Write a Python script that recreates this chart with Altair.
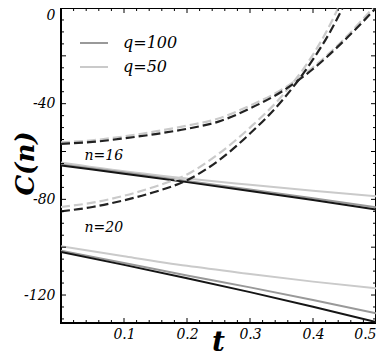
import altair as alt
import pandas as pd

# ---------------- data ----------------
T_SOLID = [0.0, 0.1, 0.2, 0.3, 0.4, 0.5]
n16_black = [-65.8, -69.3, -72.8, -76.5, -80.3, -84.3]
n16_q100 = [-65.4, -68.8, -72.3, -75.9, -79.5, -83.3]
n16_q50 = [-64.6, -68.3, -71.3, -73.9, -76.4, -78.7]
n20_black = [-102.0, -107.4, -113.0, -118.8, -124.9, -131.3]
n20_q100 = [-101.5, -106.6, -111.8, -116.8, -122.1, -127.6]
n20_q50 = [-99.6, -103.8, -107.8, -111.2, -114.4, -117.2]

T_UP = [0.0, 0.05, 0.1, 0.15, 0.2, 0.25, 0.3, 0.35, 0.4, 0.45, 0.5]
up_black = [-56.8, -56.0, -54.5, -52.7, -50.5, -47.5, -42.0, -35.0, -25.5, -13.5, 0.0]
T_UP_L = [0.0, 0.05, 0.1, 0.15, 0.2, 0.25, 0.3, 0.35, 0.4, 0.45, 0.495]
up_light = [-56.2, -55.3, -53.7, -51.6, -49.2, -46.2, -40.8, -34.2, -24.8, -12.8, 0.0]
T_LO = [0.0, 0.05, 0.1, 0.15, 0.2, 0.25, 0.3, 0.35, 0.4, 0.425, 0.447]
lo_black = [-85.0, -83.2, -80.4, -76.8, -72.0, -63.8, -52.5, -39.0, -21.5, -11.0, 0.0]
T_LO_L = [0.0, 0.05, 0.1, 0.15, 0.2, 0.25, 0.3, 0.35, 0.4, 0.42, 0.44]
lo_light = [-83.2, -81.4, -78.5, -74.6, -69.6, -61.0, -50.0, -37.0, -19.5, -10.5, 0.0]

LEGEND_LABELS = ["q=100", "q=50"]
N_LABELS = ["n=16", "n=20"]
N_LABEL_T = [0.068, 0.068]
N_LABEL_C = [-62.0, -92.0]

X_TICK_LABELS = [0.1, 0.2, 0.3, 0.4, 0.5]
Y_TICK_LABELS = [0, -40, -80, -120]
X_MAJOR = [0.1, 0.2, 0.3, 0.4]
X_MINOR = [round(0.02 * i, 2) for i in range(1, 25) if i % 5 != 0]
Y_MAJOR = [-20, -40, -60, -80, -100, -120]
Y_MINOR = [-5 * i for i in range(1, 27) if i % 4 != 0]

# ---------------- styling ----------------
W, H = 315, 315
BLACK = "#151515"
GREY = "#999999"
LIGHT = "#cacaca"
SERIF = "DejaVu Serif"


def frame(ts, cs, name):
    return pd.DataFrame({"t": ts, "C": cs, "curve": name})


solid_light = pd.concat([frame(T_SOLID, n16_q50, "a"), frame(T_SOLID, n20_q50, "b")])
solid_grey = pd.concat([frame(T_SOLID, n16_q100, "a"), frame(T_SOLID, n20_q100, "b")])
solid_black = pd.concat([frame(T_SOLID, n16_black, "a"), frame(T_SOLID, n20_black, "b")])
dash_light = pd.concat([frame(T_UP_L, up_light, "a"), frame(T_LO_L, lo_light, "b")])
dash_black = pd.concat([frame(T_UP, up_black, "a"), frame(T_LO, lo_black, "b")])

xscale = alt.Scale(domain=[0, 0.5], nice=False, zero=False)
yscale = alt.Scale(domain=[-131.7, 0], nice=False, zero=False)

xaxis = alt.Axis(
    values=X_TICK_LABELS, format=".1f", ticks=False, domain=False, grid=False,
    labelFont=SERIF, labelFontStyle="italic", labelFontSize=14, labelColor="black",
    labelPadding=4, labelFlush=True,
    title="t", titleFont=SERIF, titleFontStyle="italic", titleFontWeight="bold",
    titleFontSize=28, titleColor="black", titleX=157, titleY=27,
    titleBaseline="alphabetic", titleAlign="center",
)
yaxis = alt.Axis(
    values=Y_TICK_LABELS, ticks=False, domain=False, grid=False,
    labelExpr="datum.value == 0 ? '0' : '-' + abs(datum.value)",
    labelFont=SERIF, labelFontStyle="italic", labelFontSize=14, labelColor="black",
    labelPadding=6, labelFlush=True,
    title="C(n)", titleFont=SERIF, titleFontStyle="italic", titleFontWeight="bold",
    titleFontSize=26, titleColor="black", titleX=-36, titleY=155,
    titleBaseline="middle", titleAlign="center", titleAngle=270,
)

X = lambda: alt.X("t:Q", scale=xscale, axis=xaxis)
Y = lambda: alt.Y("C:Q", scale=yscale, axis=yaxis)


def line_layer(df, color, dash=None, width=2.0):
    kw = dict(interpolate="monotone", color=color, strokeWidth=width, clip=True)
    if dash:
        kw["strokeDash"] = dash
    return alt.Chart(df).mark_line(**kw).encode(x=X(), y=Y(), detail="curve:N")


layers = [
    line_layer(solid_light, LIGHT),
    line_layer(solid_grey, GREY),
    line_layer(solid_black, BLACK),
    line_layer(dash_light, LIGHT, dash=[9, 4], width=2.2),
    line_layer(dash_black, "#222222", dash=[9, 4], width=2.2),
]


# frame ticks (inward)
def yticks(vals, length, right=False):
    d = pd.DataFrame({"C": vals})
    x0, x1 = (W - length, W) if right else (0, length)
    return alt.Chart(d).mark_rule(color="black", strokeWidth=1).encode(
        y=Y(), x=alt.value(x0), x2=alt.value(x1))


def xticks(vals, length, top=False):
    d = pd.DataFrame({"t": vals})
    y0, y1 = (0, length) if top else (H - length, H)
    return alt.Chart(d).mark_rule(color="black", strokeWidth=1).encode(
        x=X(), y=alt.value(y0), y2=alt.value(y1))


for side in (False, True):
    layers.append(yticks(Y_MAJOR, 5, right=side))
    layers.append(yticks(Y_MINOR, 3, right=side))
    layers.append(xticks(X_MAJOR, 5, top=side))
    layers.append(xticks(X_MINOR, 3, top=side))

# n labels
nlab = pd.DataFrame({"t": N_LABEL_T, "C": N_LABEL_C, "label": N_LABELS})
layers.append(
    alt.Chart(nlab).mark_text(font=SERIF, fontStyle="italic", fontSize=14,
                              color="black", align="center", baseline="middle").encode(
        x=X(), y=Y(), text="label:N")
)

# legend (inside plot, top-left)
leg_colors = [GREY, LIGHT]
leg_y = [35, 59]
one = pd.DataFrame({"k": [0]})
for lab, col, yy in zip(LEGEND_LABELS, leg_colors, leg_y):
    layers.append(alt.Chart(one).mark_rule(color=col, strokeWidth=2).encode(
        x=alt.value(19), x2=alt.value(47), y=alt.value(yy)))
    layers.append(alt.Chart(one).mark_text(
        text=lab, font=SERIF, fontStyle="italic", fontSize=16, color="black",
        align="left", baseline="middle").encode(x=alt.value(62), y=alt.value(yy)))

chart = alt.layer(*layers).properties(
    width=W, height=H,
    autosize=alt.AutoSizeParams(type="none"),
    padding={"left": 53, "top": 0, "right": 0, "bottom": 33},
    background="white",
).configure_view(stroke="black", strokeWidth=2)

chart.save("out.html", embed_options={"renderer": "svg", "actions": False})
